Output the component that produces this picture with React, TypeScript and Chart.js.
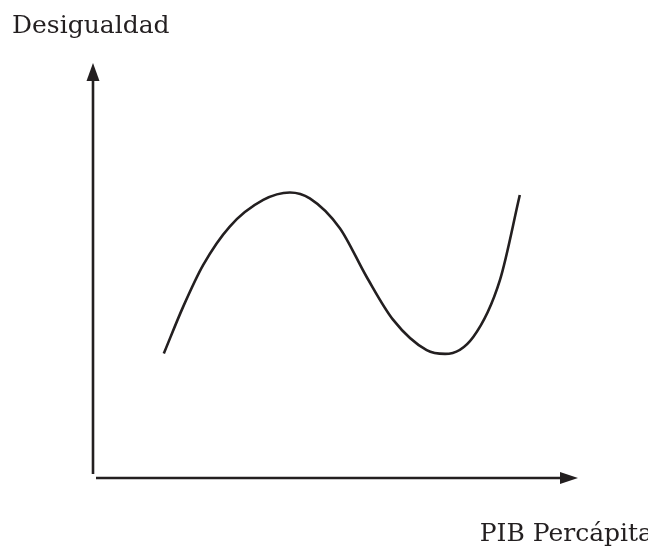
import React, { useEffect, useRef } from "react";
import { Chart, registerables } from "chart.js";

Chart.register(...registerables);

const xLabel = "PIB Percápita";
const yLabel = "Desigualdad";
const curveX = [14.6, 18.6, 22.7, 28.2, 35.1, 40.6, 44.7, 50.9, 56.4, 61.9, 68.8, 72.6, 78.4, 83.9, 88.0];
const curveY = [30.0, 41.3, 51.3, 60.6, 67.0, 68.8, 67.4, 60.2, 48.5, 38.1, 30.8, 29.9, 34.0, 47.7, 68.2];

const INK = "#231f20";
const FONT = "25px 'DejaVu Serif', serif";

const axesPlugin = {
  id: "arrowAxes",
  afterDraw(chart: any) {
    const { ctx, scales } = chart;
    const xs = scales.x;
    const ys = scales.y;
    const x0 = xs.getPixelForValue(0);
    const x1 = xs.getPixelForValue(100);
    const y0 = ys.getPixelForValue(0);
    const y1 = ys.getPixelForValue(100);
    ctx.save();
    ctx.strokeStyle = INK;
    ctx.fillStyle = INK;
    ctx.lineWidth = 2.6;
    // y axis
    ctx.beginPath();
    ctx.moveTo(x0, y0 - 4);
    ctx.lineTo(x0, y1 + 14);
    ctx.stroke();
    ctx.beginPath();
    ctx.moveTo(x0, y1);
    ctx.lineTo(x0 - 6.5, y1 + 18);
    ctx.lineTo(x0 + 6.5, y1 + 18);
    ctx.closePath();
    ctx.fill();
    // x axis
    ctx.beginPath();
    ctx.moveTo(x0 + 3, y0);
    ctx.lineTo(x1 - 14, y0);
    ctx.stroke();
    ctx.beginPath();
    ctx.moveTo(x1, y0);
    ctx.lineTo(x1 - 18, y0 - 6);
    ctx.lineTo(x1 - 18, y0 + 6);
    ctx.closePath();
    ctx.fill();
    // labels
    ctx.font = FONT;
    ctx.textBaseline = "alphabetic";
    ctx.textAlign = "left";
    ctx.fillText(yLabel, 4, 25);
    ctx.textAlign = "right";
    ctx.fillText(xLabel, 645, 533);
    ctx.restore();
  },
};

export default function App() {
  const ref = useRef<HTMLCanvasElement>(null);
  useEffect(() => {
    const canvas = ref.current;
    if (!canvas) return;
    const chart = new Chart(canvas, {
      type: "line",
      data: {
        datasets: [
          {
            data: curveX.map((x, i) => ({ x, y: curveY[i] })),
            borderColor: INK,
            borderWidth: 2.6,
            pointRadius: 0,
            cubicInterpolationMode: "monotone",
            fill: false,
          },
        ],
      },
      options: {
        responsive: false,
        animation: false,
        layout: { padding: { left: 85, right: 70, top: 55, bottom: 72 } },
        plugins: { legend: { display: false }, tooltip: { enabled: false } },
        scales: {
          x: { type: "linear", min: 0, max: 100, display: false },
          y: { type: "linear", min: 0, max: 100, display: false },
        },
      },
      plugins: [axesPlugin],
    } as any);
    return () => chart.destroy();
  }, []);
  return <canvas ref={ref} width={640} height={542} style={{ display: "block" }} />;
}
